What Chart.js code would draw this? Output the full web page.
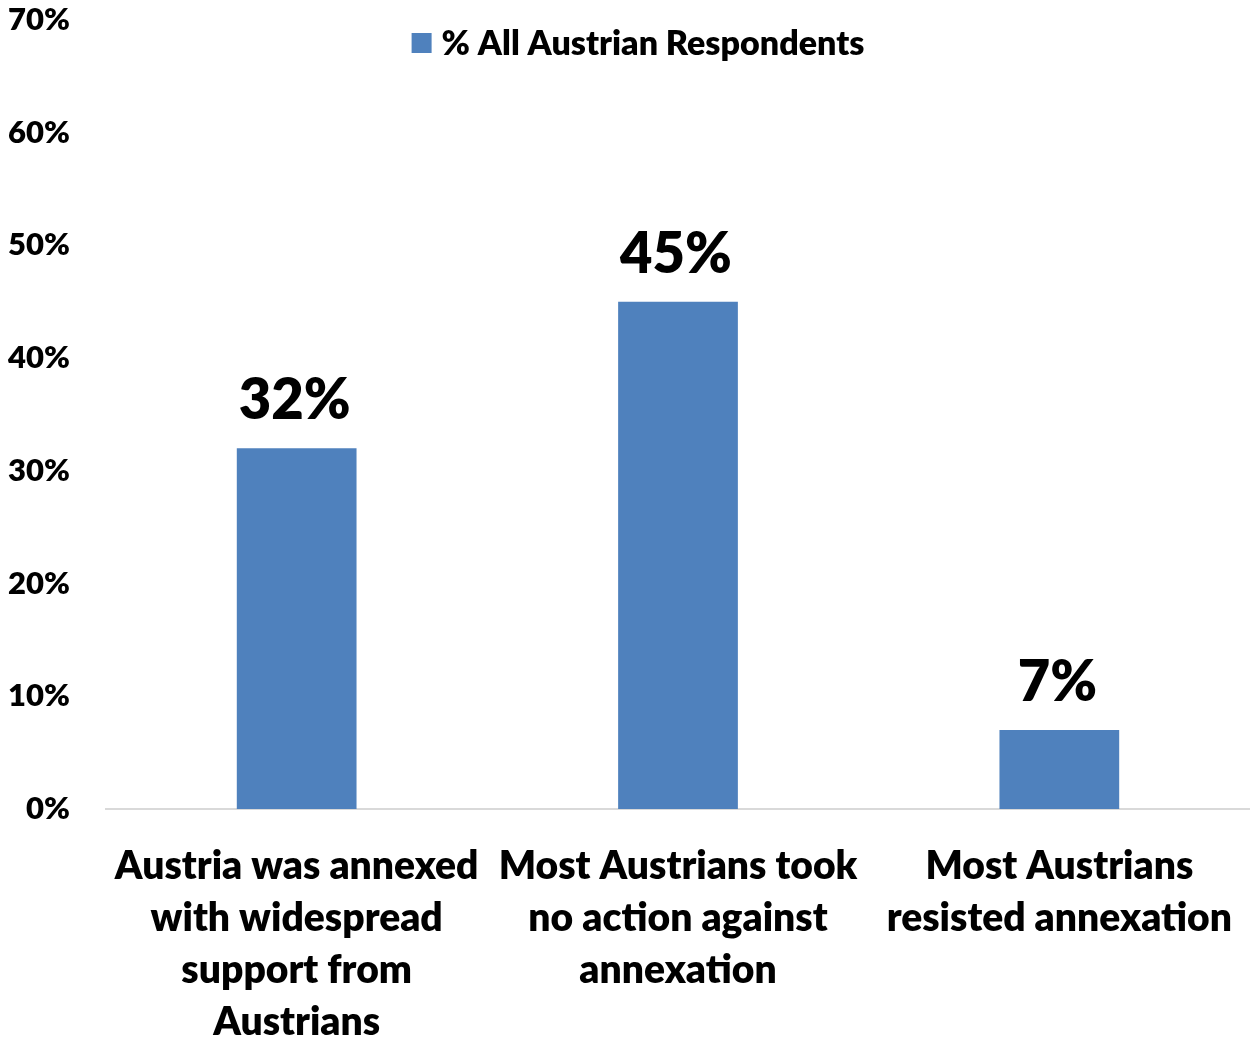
<!DOCTYPE html>
<html lang="en">
<head>
    <meta charset="UTF-8">
    <title>Austrian Respondents</title>
    <script src="https://cdn.jsdelivr.net/npm/chart.js@4/dist/chart.umd.min.js"></script>
    <style>
        html, body { margin: 0; padding: 0; background: #fff; overflow: hidden; }
        .chart { position: relative; width: 1250px; height: 1037px; }
    </style>
</head>
<body>
<div class="chart">
    <canvas id="myChart"></canvas>
</div>

<script>
    // chart data
    const categories = [
        ['Austria was annexed', 'with widespread', 'support from', 'Austrians'],
        ['Most Austrians took', 'no action against', 'annexation'],
        ['Most Austrians', 'resisted annexation']
    ];
    const seriesName = '% All Austrian Respondents';
    const values = [32, 45, 7];
    const yTicks = [0, 10, 20, 30, 40, 50, 60, 70];

    const FONT = 'Lato, "Open Sans", sans-serif';
    const BAR_COLOR = '#4f81bd';

    // value labels above the bars
    const valueLabels = {
        id: 'valueLabels',
        afterDatasetsDraw(chart) {
            const ctx = chart.ctx;
            const meta = chart.getDatasetMeta(0);
            ctx.save();
            ctx.font = '800 56px ' + FONT;
            ctx.fillStyle = '#000';
            ctx.textAlign = 'center';
            ctx.textBaseline = 'alphabetic';
            meta.data.forEach((bar, i) => {
                ctx.fillText(values[i] + '%', bar.x - 2, bar.y - 29);
            });
            ctx.restore();
        }
    };

    // legend drawn over the top of the plot
    const topLegend = {
        id: 'topLegend',
        afterDraw(chart) {
            const ctx = chart.ctx;
            ctx.save();
            ctx.font = '800 34px ' + FONT;
            const tw = ctx.measureText(seriesName).width;
            const total = 20 + 10 + tw;
            const x0 = chart.width / 2 + 13 - total / 2;
            const yc = 43;
            ctx.fillStyle = BAR_COLOR;
            ctx.fillRect(x0, yc - 10, 20, 20);
            ctx.fillStyle = '#000';
            ctx.textAlign = 'left';
            ctx.textBaseline = 'middle';
            ctx.fillText(seriesName, x0 + 30, yc + 1);
            ctx.restore();
        }
    };

    const ctx = document.getElementById('myChart').getContext('2d');
    const myChart = new Chart(ctx, {
        type: 'bar',
        data: {
            labels: categories,
            datasets: [{
                label: seriesName,
                data: values,
                backgroundColor: BAR_COLOR,
                borderWidth: 0,
                barPercentage: 0.314,
                categoryPercentage: 1
            }]
        },
        options: {
            responsive: true,
            maintainAspectRatio: false,
            animation: false,
            layout: { padding: 0 },
            plugins: {
                legend: { display: false },
                tooltip: { enabled: false }
            },
            scales: {
                x: {
                    grid: { display: false, drawTicks: false },
                    border: { display: true, color: '#d9d9d9', width: 2 },
                    ticks: {
                        color: '#000',
                        font: { family: FONT, size: 39, weight: '800', lineHeight: 1.34 },
                        padding: 31,
                        maxRotation: 0,
                        autoSkip: false
                    },
                    afterFit(scale) {
                        scale.height = 228;
                        scale.paddingLeft = 0;
                        scale.paddingRight = 0;
                    }
                },
                y: {
                    min: 0,
                    max: 70,
                    afterBuildTicks(scale) {
                        scale.ticks = yTicks.map(v => ({ value: v }));
                    },
                    grid: { display: false, drawTicks: false },
                    border: { display: false },
                    ticks: {
                        color: '#000',
                        font: { family: FONT, size: 31, weight: '800' },
                        padding: 36,
                        callback: v => v + '%'
                    },
                    afterFit(scale) {
                        scale.width = 106;
                        scale.paddingTop = 20;
                        scale.paddingBottom = 0;
                    }
                }
            }
        },
        plugins: [valueLabels, topLegend]
    });
</script>
</body>
</html>
